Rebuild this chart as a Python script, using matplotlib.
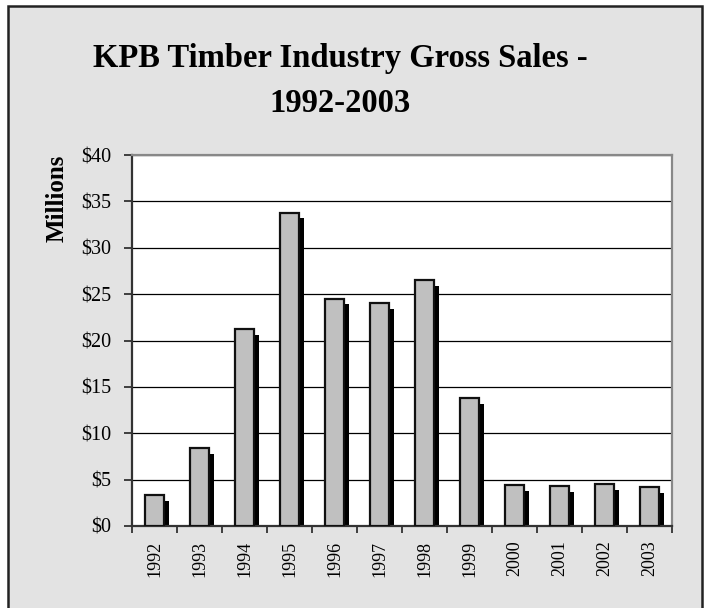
import numpy as np
import matplotlib
matplotlib.use("Agg")
import matplotlib.pyplot as plt
from matplotlib.patches import Rectangle
from matplotlib.ticker import FuncFormatter, MultipleLocator, FixedLocator

years = ["1992", "1993", "1994", "1995", "1996", "1997",
         "1998", "1999", "2000", "2001", "2002", "2003"]
sales = [3.3, 8.4, 21.2, 33.8, 24.5, 24.0, 26.5, 13.8, 4.4, 4.3, 4.5, 4.2]

plt.rcParams['font.family'] = ['Liberation Serif', 'DejaVu Serif']

fig = plt.figure(figsize=(7.08, 6.08), dpi=100)
fig.patch.set_facecolor("white")
W, H = 708, 608

# outer chart frame (bottom runs off the canvas)
frame = Rectangle((8 / W, -0.02), (702 - 8) / W, 1.02 - 6 / H,
                  transform=fig.transFigure, facecolor="#e3e3e3",
                  edgecolor="#222222", linewidth=1.8, zorder=-10)
fig.patches.append(frame)

ax = fig.add_axes([132 / W, 1 - 526 / H, (672 - 132) / W, (526 - 155) / H])
ax.set_zorder(5)
ax.set_facecolor("white")

x = np.arange(len(years))
bw = 0.42
# shadow behind each bar
ax.bar(x + 0.11, np.array(sales) - 0.6, width=bw, color="black",
       edgecolor="black", linewidth=0, zorder=2)
ax.bar(x, sales, width=bw, color="#c0c0c0", edgecolor="#111111",
       linewidth=1.6, zorder=3)

ax.set_xlim(-0.5, len(years) - 0.5)
ax.set_ylim(0, 40)
ax.yaxis.set_major_locator(MultipleLocator(5))
ax.yaxis.set_major_formatter(FuncFormatter(lambda v, p: "$%d" % v))
ax.grid(axis="y", color="black", linewidth=0.9, zorder=1)
ax.set_axisbelow(True)

ax.set_xticks(x)
ax.set_xticklabels(years, rotation=90, fontsize=13)
ax.xaxis.set_minor_locator(FixedLocator(np.arange(-0.5, len(years), 1.0)))
ax.tick_params(axis="x", which="major", length=0, pad=10.5)
ax.tick_params(axis="x", which="minor", length=5, width=1.2, color="#222222")
ax.tick_params(axis="y", length=6, width=1.2, color="#222222", labelsize=14.5, pad=9)

for s in ["left", "bottom"]:
    ax.spines[s].set_color("#333333")
    ax.spines[s].set_linewidth(1.6)
for s in ["top", "right"]:
    ax.spines[s].set_color("#888888")
    ax.spines[s].set_linewidth(1.6)

fig.text(57 / W, 1 - 155 / H, "Millions", rotation=90, ha="center", va="top",
         fontsize=18, fontweight="bold")

fig.text(340 / W, 1 - 81 / H, "KPB Timber Industry Gross Sales -\n1992-2003",
         ha="center", va="center", fontsize=23.5, fontweight="bold",
         linespacing=1.6)

fig.savefig("out.png", dpi=100, facecolor=fig.get_facecolor())
